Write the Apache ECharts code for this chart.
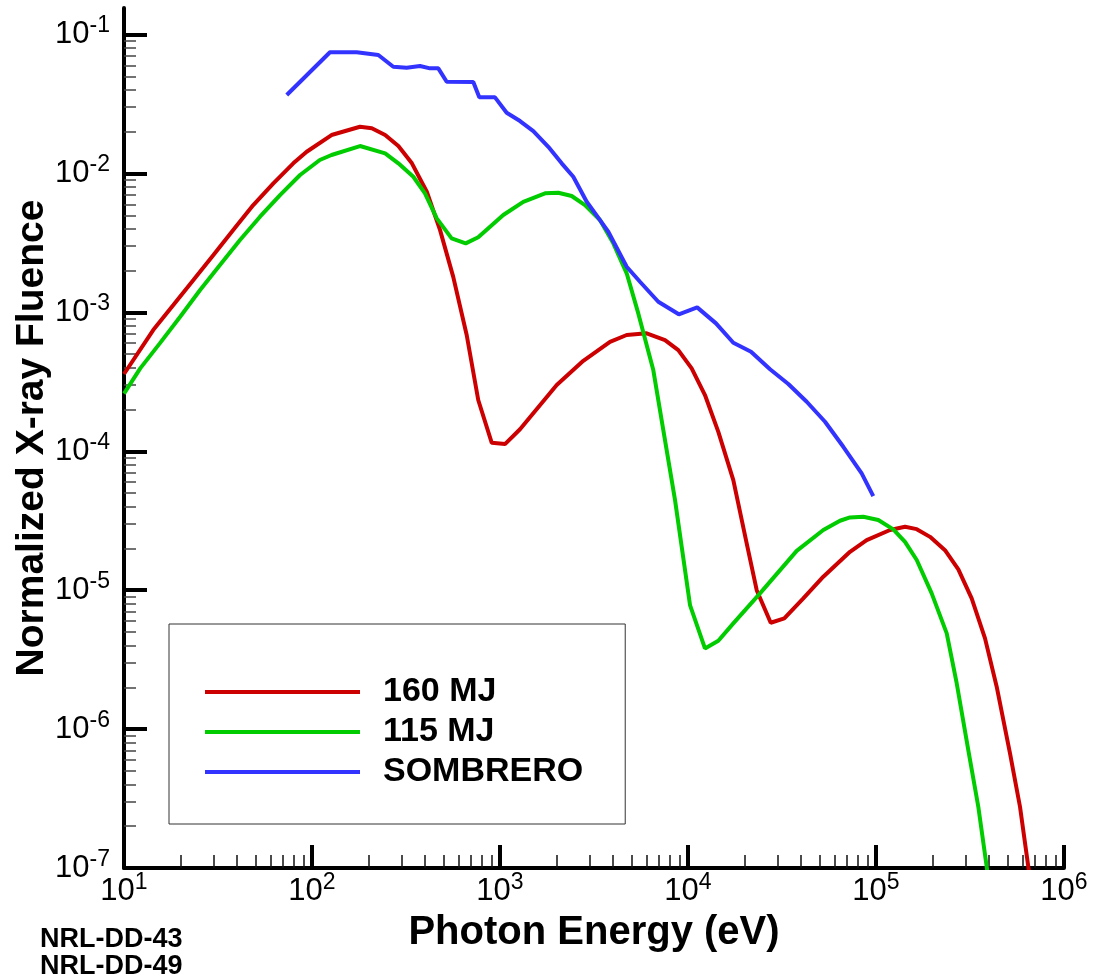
<!DOCTYPE html>
<html>
<head>
<meta charset="utf-8">
<script src="https://cdn.jsdelivr.net/npm/echarts@6/dist/echarts.min.js"></script>
<style>
html,body{margin:0;padding:0;background:#fff;}
#chart{width:1104px;height:976px;}
</style>
</head>
<body>
<div id="chart"></div>
<script>
// ---- Data ----
const seriesNames = ['160 MJ', '115 MJ', 'SOMBRERO'];

// [photon energy (eV), normalized fluence]
const mj160 = [
  [10, 3.6e-4], [14.3, 7.46e-4], [18.3, 1.128e-3], [23.4, 1.708e-3], [29.9, 2.585e-3],
  [38.1, 3.913e-3], [48.7, 5.92e-3], [62.3, 8.49e-3], [79.5, 0.01182], [93.7, 0.01433],
  [127, 0.0189], [180, 0.02169], [208, 0.02113], [245, 0.0189], [288, 0.01575],
  [340, 0.01182], [408, 7.38e-3], [480, 3.91e-3], [564, 1.80e-3], [665, 6.87e-4],
  [766, 2.34e-4], [904, 1.15e-4], [1063, 1.126e-4], [1278, 1.44e-4], [2003, 3.0e-4],
  [2774, 4.48e-4], [3846, 6.14e-4], [4719, 6.87e-4], [6030, 7.06e-4], [7546, 6.32e-4],
  [8879, 5.35e-4], [10460, 3.95e-4], [12310, 2.54e-4], [14500, 1.38e-4], [17420, 6.2e-5],
  [20520, 2.17e-5], [23200, 1.0e-5], [27540, 5.83e-6], [32530, 6.27e-6], [41050, 8.73e-6],
  [52450, 1.25e-5], [72720, 1.89e-5], [89220, 2.29e-5], [118700, 2.71e-5], [142700, 2.86e-5],
  [164700, 2.75e-5], [193800, 2.42e-5], [232800, 1.94e-5], [274100, 1.41e-5], [322800, 8.73e-6],
  [380100, 4.5e-6], [438500, 2.02e-6], [516200, 6.69e-7], [583400, 2.76e-7], [645900, 1.02e-7],
  [662000, 8.2e-8]
];

const mj115 = [
  [10, 2.6e-4], [12.2, 3.95e-4], [15.5, 5.98e-4], [19.9, 9.3e-4], [25.4, 1.447e-3],
  [32.4, 2.19e-3], [41.4, 3.315e-3], [52.9, 4.88e-3], [67.6, 6.99e-3], [86.4, 9.74e-3],
  [110, 0.01249], [127, 0.01357], [180, 0.01575], [245, 0.01396], [288, 0.01182],
  [346, 9.47e-3], [399, 7.19e-3], [461, 4.75e-3], [553, 3.41e-3], [657, 3.14e-3],
  [766, 3.47e-3], [1041, 5.02e-3], [1330, 6.25e-3], [1736, 7.19e-3], [2043, 7.26e-3],
  [2406, 6.88e-3], [2832, 5.92e-3], [3403, 4.62e-3], [4006, 3.14e-3], [4719, 1.91e-3],
  [5440, 9.83e-4], [6538, 3.84e-4], [7391, 1.42e-4], [8532, 4.45e-5], [10250, 7.81e-6],
  [12310, 3.81e-6], [14500, 4.32e-6], [17420, 5.77e-6], [24150, 9.48e-6], [37860, 1.92e-5],
  [52450, 2.71e-5], [64350, 3.16e-5], [72720, 3.34e-5], [85590, 3.38e-5], [102850, 3.2e-5],
  [123600, 2.74e-5], [142700, 2.23e-5], [164700, 1.65e-5], [197800, 9.48e-6], [237800, 4.89e-6],
  [268800, 2.13e-6], [309700, 7.06e-7], [350100, 2.76e-7], [388000, 1.02e-7], [396700, 8.2e-8]
];

const sombrero = [
  [73.4, 0.0367], [124.6, 0.0745], [172.9, 0.0745], [225.3, 0.0712], [270.6, 0.0586],
  [318.9, 0.0577], [375.3, 0.0593], [424.2, 0.0571], [469.7, 0.0571], [520.6, 0.0457],
  [721, 0.0455], [776, 0.0353], [940.6, 0.0353], [1085, 0.02735], [1278, 0.02384],
  [1504, 0.0202], [1807, 0.01556], [2129, 0.01182], [2454, 0.00947], [2892, 0.00626],
  [3768, 0.003804], [4719, 0.002129], [5554, 0.001661], [6950, 0.001192], [8935, 0.000969],
  [11190, 0.001086], [14090, 0.000833], [17420, 0.000604], [21640, 0.00052], [27310, 0.000389],
  [34170, 0.0003047], [42800, 0.0002272], [53560, 0.0001631], [67000, 0.0001077], [83900, 6.93e-5],
  [96700, 4.76e-5]
];

// Tick positions
const xMajorTicks = [1e1, 1e2, 1e3, 1e4, 1e5, 1e6];
const yMajorTicks = [1e-7, 1e-6, 1e-5, 1e-4, 1e-3, 1e-2, 1e-1];
const minorMultipliers = [2, 3, 4, 5, 6, 7, 8, 9];
const xMinorDecades = [1e1, 1e2, 1e3, 1e4, 1e5];
const yMinorDecades = [1e-7, 1e-6, 1e-5, 1e-4, 1e-3, 1e-2];
const footnoteLines = ['NRL-DD-43', 'NRL-DD-49'];

// ---- Build chart ----
const xMinorTicks = [];
xMinorDecades.forEach(d => minorMultipliers.forEach(m => xMinorTicks.push(m * d)));
const yMinorTicks = [];
yMinorDecades.forEach(d => minorMultipliers.forEach(m => yMinorTicks.push(m * d)));

const FONT = '"Liberation Sans", Arial, Helvetica, sans-serif';
const colors = ['#cc0000', '#00cc00', '#3333ff'];

function powLabel(v) {
  const e = Math.round(Math.log10(v));
  return '{b|10}{e|' + e + '}';
}
const labelRich = {
  b: { fontSize: 31, lineHeight: 40, fontFamily: FONT, color: '#000' },
  e: { fontSize: 23, lineHeight: 23, fontFamily: FONT, color: '#000', verticalAlign: 'top' }
};

const chart = echarts.init(document.getElementById('chart'), null, { renderer: 'canvas' });

const option = {
  backgroundColor: '#fff',
  animation: false,
  textStyle: { fontFamily: FONT },
  title: {
    text: footnoteLines.join('\n'),
    left: 40, top: 926, padding: 0,
    textStyle: { fontSize: 27, fontWeight: 'bold', lineHeight: 27, fontFamily: FONT, color: '#000' }
  },
  grid: {
    left: 124, right: 40, top: 8, bottom: 108,
    containLabel: false,
    outerBoundsMode: 'none'
  },
  legend: {
    orient: 'vertical',
    left: 169, top: 624,
    data: seriesNames,
    icon: 'rect',
    itemWidth: 155, itemHeight: 4,
    itemGap: 4,
    padding: [50, 42, 34, 36],
    borderColor: '#333', borderWidth: 1,
    backgroundColor: '#fff',
    selectedMode: false,
    textStyle: { fontSize: 34, fontWeight: 'bold', fontFamily: FONT, color: '#000', lineHeight: 36, padding: [0, 0, 0, 18] }
  },
  xAxis: [
    {
      type: 'log', min: 10, max: 1e6, position: 'bottom',
      name: 'Photon Energy (eV)', nameLocation: 'middle', nameGap: 45, nameMoveOverlap: false,
      nameTextStyle: { fontSize: 40, fontWeight: 'bold', fontFamily: FONT, color: '#000' },
      axisLine: { show: true, lineStyle: { color: '#000', width: 4 } },
      axisTick: { show: true, inside: true, length: 23, lineStyle: { color: '#000', width: 4 }, customValues: xMajorTicks },
      axisLabel: { show: true, margin: 3, customValues: xMajorTicks, formatter: powLabel, rich: labelRich },
      splitLine: { show: false }, minorTick: { show: false }
    },
    {
      type: 'log', min: 10, max: 1e6, position: 'bottom',
      axisLine: { show: false },
      axisTick: { show: true, inside: true, length: 13, lineStyle: { color: '#111', width: 1.5 }, customValues: xMinorTicks },
      axisLabel: { show: false },
      splitLine: { show: false }
    }
  ],
  yAxis: [
    {
      type: 'log', min: 1e-7, max: Math.pow(10, -0.809), position: 'left',
      name: 'Normalized X-ray Fluence', nameLocation: 'middle', nameGap: 72, nameMoveOverlap: false,
      nameTextStyle: { fontSize: 39, fontWeight: 'bold', fontFamily: FONT, color: '#000' },
      axisLine: { show: true, lineStyle: { color: '#000', width: 4 } },
      axisTick: { show: true, inside: true, length: 23, lineStyle: { color: '#000', width: 4 }, customValues: yMajorTicks },
      axisLabel: { show: true, margin: 14, customValues: yMajorTicks, formatter: powLabel, rich: labelRich },
      splitLine: { show: false }, minorTick: { show: false }
    },
    {
      type: 'log', min: 1e-7, max: Math.pow(10, -0.809), position: 'left',
      axisLine: { show: false },
      axisTick: { show: true, inside: true, length: 12, lineStyle: { color: '#444', width: 1.5 }, customValues: yMinorTicks },
      axisLabel: { show: false },
      splitLine: { show: false }
    }
  ],
  series: [
    { name: seriesNames[0], type: 'line', data: mj160, showSymbol: false, symbol: 'none', clip: true,
      lineStyle: { color: colors[0], width: 4 }, itemStyle: { color: colors[0] } },
    { name: seriesNames[1], type: 'line', data: mj115, showSymbol: false, symbol: 'none', clip: true,
      lineStyle: { color: colors[1], width: 4 }, itemStyle: { color: colors[1] } },
    { name: seriesNames[2], type: 'line', data: sombrero, showSymbol: false, symbol: 'none', clip: true,
      lineStyle: { color: colors[2], width: 4 }, itemStyle: { color: colors[2] } }
  ]
};
chart.setOption(option);
</script>
</body>
</html>
